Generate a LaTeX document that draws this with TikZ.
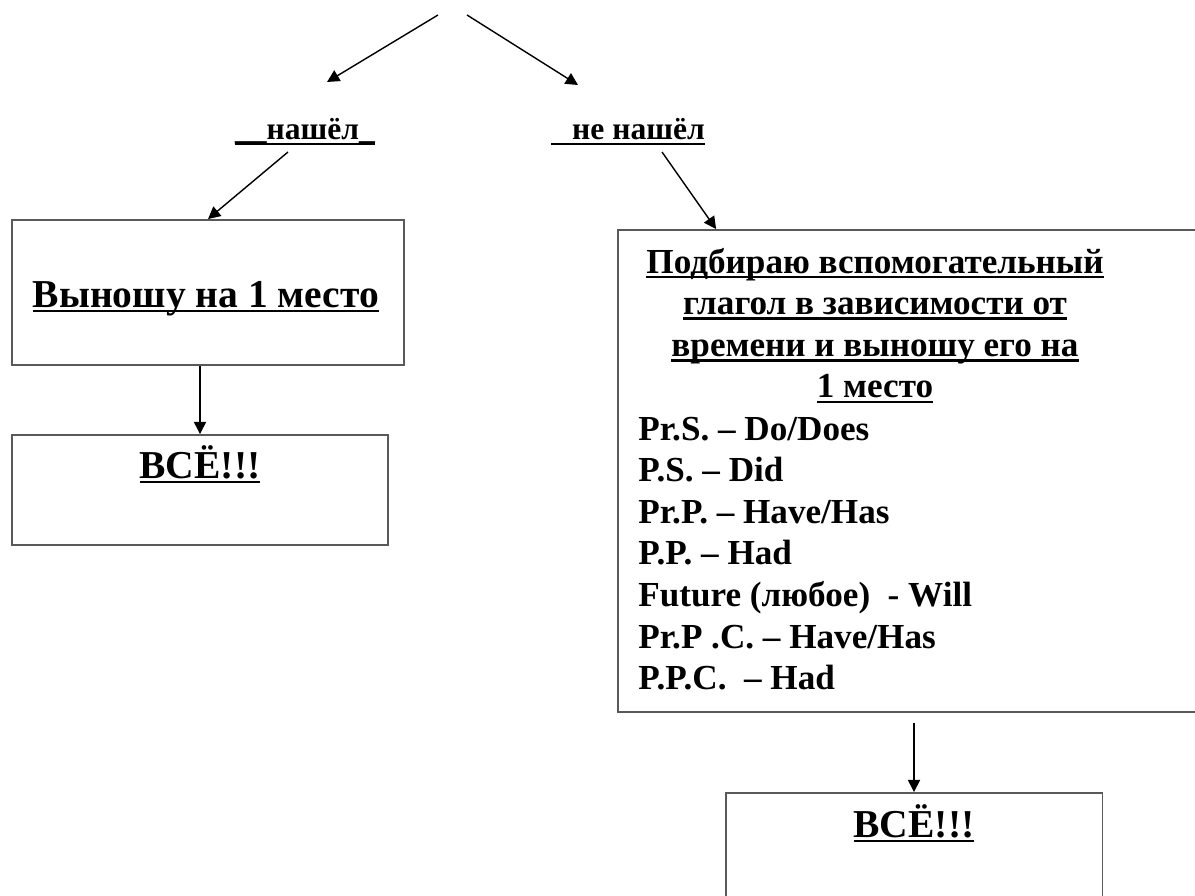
\documentclass[tikz,border=0pt]{standalone}
\usepackage{fontspec}
\setmainfont{Liberation Serif}
\usetikzlibrary{arrows.meta,calc,positioning}

\newcommand{\undl}[1]{\setbox0\hbox{#1}\rlap{\rule[-3pt]{\wd0}{1.4pt}}\box0}

\begin{document}
\begin{tikzpicture}[x=0.02cm,y=-0.02cm,
	txt/.style={font=\fontsize{20}{23.7}\selectfont\bfseries,inner sep=0pt},
	lbl/.style={txt,font=\fontsize{18}{21}\selectfont\bfseries},
	big/.style={txt,font=\fontsize{22.5}{26}\selectfont\bfseries},
	box/.style={draw=black!65,line width=1.1pt,rectangle},
	arr/.style={-{Triangle[length=7pt,width=7pt]},line width=0.8pt}]
	\useasboundingbox (0,0) rectangle (1195,895);
	\clip (0,0) rectangle (1195,895);
	
	% labels of the two branches
	\coordinate (qL) at (438,15);
	\coordinate (qR) at (467,15);
	\coordinate (tL) at (327,82);
	\coordinate (tR) at (578,85);
	\node[lbl,anchor=base] (found) at (305,140) {\undl{\_\_нашёл\_}};
	\node[lbl,anchor=base] (notfound) at (628,140) {\undl{\hspace{12pt}не нашёл}};
	
	% left branch
	\node[box,minimum width=7.84cm,minimum height=2.9cm] (b1) at (208,292.5) {};
	\node[big,anchor=base] (b1text) at (206,307) {\undl{Выношу на 1 место}};
	\node[box,minimum width=7.52cm,minimum height=2.2cm] (b2) at (200,490) {};
	\node[big,anchor=base] (b2text) at (200,478) {\undl{ВСЁ!!!}};
	
	% right branch
	\node[box,minimum width=11.94cm,minimum height=9.64cm] (r1) at (916.5,471) {};
	\node[txt,anchor=base] (r1head) at (875,273) {\begin{tabular}[t]{@{}c@{}}
			\undl{Подбираю вспомогательный}\\
			\undl{глагол в зависимости от}\\
			\undl{времени и выношу его на}\\
			\undl{1 место}
		\end{tabular}};
	\node[txt,anchor=base west] (r1list) at (638,440) {\begin{tabular}[t]{@{}l@{}}
			Pr.S. – Do/Does\\
			P.S. – Did\\
			Pr.P. – Have/Has\\
			P.P. – Had\\
			Future (любое)~ - Will\\
			Pr.P .C. – Have/Has\\
			P.P.C.~ – Had
		\end{tabular}};
	\node[box,minimum width=7.54cm,minimum height=2.2cm] (r2) at (914,848) {};
	\node[big,anchor=base] (r2text) at (914,837) {\undl{ВСЁ!!!}};
	
	\draw[arr] (qL) -- (tL);
	\draw[arr] (qR) -- (tR);
	\draw[arr] ($(found.base)+(-17,12)$) -- (b1.north);
	\draw[arr] ($(notfound.base)+(34,12)$) -- ($(r1.north west)+(99,0)$);
	\draw[arr] (b1.south -| b2.north) -- (b2.north);
	\draw[arr] ($(r1.south -| r2.north)+(0,10)$) -- (r2.north);
\end{tikzpicture}
\end{document}
